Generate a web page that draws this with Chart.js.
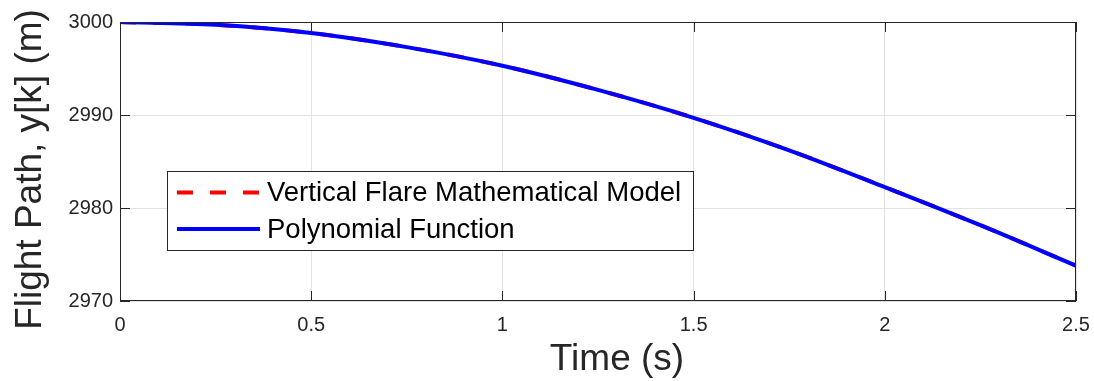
<!DOCTYPE html>
<html>
<head>
<meta charset="utf-8">
<script src="https://cdn.jsdelivr.net/npm/chart.js@4.4.1/dist/chart.umd.min.js"></script>
<style>
  html, body { margin: 0; padding: 0; background: #fff; }
  #plot { display: block; }
</style>
</head>
<body>
<canvas id="plot" width="1094" height="381"></canvas>
<script>
// time samples (s) and altitude readings (m)
var timeSec = [0, 0.25, 0.5, 0.75, 1.0, 1.25, 1.5, 1.75, 2.0, 2.25, 2.5];
var flareModel = [3000, 2999.7, 2998.82, 2997.3, 2995.3, 2992.7, 2989.7, 2986.2, 2982.25, 2978.15, 2973.8];
var polyFit = [3000, 2999.7, 2998.82, 2997.3, 2995.3, 2992.7, 2989.7, 2986.2, 2982.25, 2978.15, 2973.8];
var xTicks = [0, 0.5, 1, 1.5, 2, 2.5];
var yTicks = [2970, 2980, 2990, 3000];
var seriesNames = ['Vertical Flare Mathematical Model', 'Polynomial Function'];

var FONT = '"Liberation Sans", Arial, Helvetica, sans-serif';
var AXIS_COLOR = '#262626';

function pts(xs, ys) {
  return xs.map(function (x, i) { return { x: x, y: ys[i] }; });
}

// box around the axes with inward tick marks, plus axis titles and legend
var matlabAxes = {
  id: 'matlabAxes',
  afterDraw: function (chart) {
    var ctx = chart.ctx, a = chart.chartArea;
    var xs = chart.scales.x, ys = chart.scales.y;
    ctx.save();
    ctx.strokeStyle = AXIS_COLOR;
    ctx.lineWidth = 1;
    ctx.strokeRect(a.left + 0.5, a.top + 0.5, a.right - a.left - 1, a.bottom - a.top - 1);
    ctx.beginPath();
    xTicks.forEach(function (t) {
      var px = Math.round(xs.getPixelForValue(t)) + 0.5;
      ctx.moveTo(px, a.bottom); ctx.lineTo(px, a.bottom - 10);
      ctx.moveTo(px, a.top); ctx.lineTo(px, a.top + 10);
    });
    yTicks.forEach(function (t) {
      var py = Math.round(ys.getPixelForValue(t)) + 0.5;
      ctx.moveTo(a.left, py); ctx.lineTo(a.left + 10, py);
      ctx.moveTo(a.right, py); ctx.lineTo(a.right - 10, py);
    });
    ctx.stroke();

    // axis titles
    ctx.fillStyle = AXIS_COLOR;
    ctx.font = '37px ' + FONT;
    ctx.textAlign = 'center';
    ctx.textBaseline = 'alphabetic';
    ctx.fillText('Time (s)', (a.left + a.right) / 2 + 19, 370);
    ctx.save();
    ctx.translate(41, (a.top + a.bottom) / 2 + 8);
    ctx.rotate(-Math.PI / 2);
    ctx.fillText('Flight Path, y[k] (m)', 0, 0);
    ctx.restore();

    // legend
    var lx = 167.5, ly = 171.5, lw = 526, lh = 79;
    ctx.fillStyle = '#fff';
    ctx.fillRect(lx, ly, lw, lh);
    ctx.strokeStyle = AXIS_COLOR;
    ctx.strokeRect(lx, ly, lw, lh);
    var rows = [192.5, 229];
    chart.data.datasets.forEach(function (ds) {
      var y = rows[ds.legendRow];
      ctx.beginPath();
      ctx.strokeStyle = ds.borderColor;
      ctx.lineWidth = ds.borderWidth;
      ctx.setLineDash(ds.borderDash || []);
      ctx.moveTo(177, y);
      ctx.lineTo(260, y);
      ctx.stroke();
      ctx.setLineDash([]);
      ctx.fillStyle = '#000';
      ctx.font = '27.5px ' + FONT;
      ctx.textAlign = 'left';
      ctx.textBaseline = 'middle';
      ctx.fillText(ds.label, 267, y + 1);
    });
    ctx.restore();
  }
};

var chart = new Chart(document.getElementById('plot'), {
  type: 'line',
  data: {
    datasets: [
      {
        label: seriesNames[0],
        data: pts(timeSec, flareModel),
        borderColor: '#ff0000',
        borderWidth: 4,
        borderDash: [16, 17],
        pointRadius: 0,
        cubicInterpolationMode: 'monotone',
        order: 2,
        legendRow: 0
      },
      {
        label: seriesNames[1],
        data: pts(timeSec, polyFit),
        borderColor: '#0000ff',
        borderWidth: 4,
        pointRadius: 0,
        cubicInterpolationMode: 'monotone',
        order: 1,
        legendRow: 1
      }
    ]
  },
  options: {
    responsive: false,
    animation: false,
    layout: { padding: { left: 0, top: 22, right: 18, bottom: 0 } },
    plugins: { legend: { display: false }, tooltip: { enabled: false } },
    scales: {
      x: {
        type: 'linear',
        min: 0,
        max: 2.5,
        afterBuildTicks: function (s) { s.ticks = xTicks.map(function (v) { return { value: v }; }); },
        afterFit: function (s) { s.height = 80; s.paddingLeft = 0; s.paddingRight = 0; },
        border: { display: false },
        grid: { color: '#e3e3e3', lineWidth: 1, drawTicks: false },
        ticks: {
          padding: 12,
          color: AXIS_COLOR,
          font: { family: FONT, size: 20 },
          maxRotation: 0,
          callback: function (v) { return String(v); }
        }
      },
      y: {
        min: 2970,
        max: 3000,
        afterBuildTicks: function (s) { s.ticks = yTicks.map(function (v) { return { value: v }; }); },
        afterFit: function (s) { s.width = 120; s.paddingTop = 0; s.paddingBottom = 0; },
        border: { display: false },
        grid: { color: '#e3e3e3', lineWidth: 1, drawTicks: false },
        ticks: {
          padding: 7,
          color: AXIS_COLOR,
          font: { family: FONT, size: 20 },
          callback: function (v) { return String(v); }
        }
      }
    }
  },
  plugins: [matlabAxes]
});
</script>
</body>
</html>
